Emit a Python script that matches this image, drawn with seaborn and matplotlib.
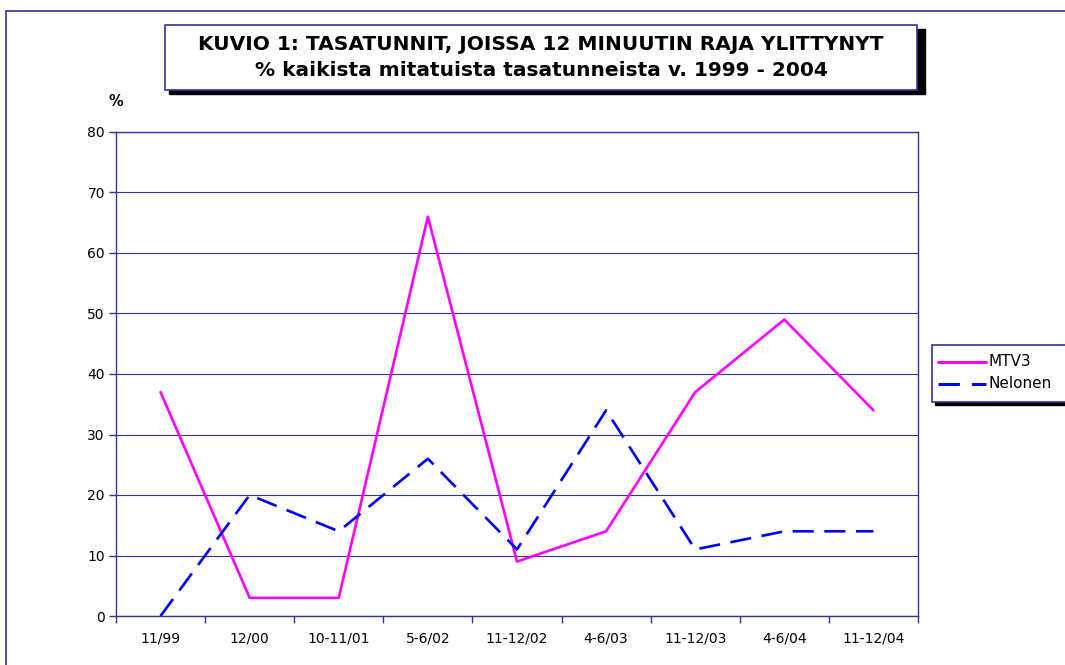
import matplotlib
matplotlib.use("Agg")
import matplotlib.pyplot as plt
from matplotlib.patches import Rectangle
import seaborn as sns
import pandas as pd
import numpy as np

periods = ["11/99", "12/00", "10-11/01", "5-6/02", "11-12/02",
           "4-6/03", "11-12/03", "4-6/04", "11-12/04"]
mtv3 = [37, 3, 3, 66, 9, 14, 37, 49, 34]
nelonen = [0, 20, 14, 26, 11, 34, 11, 14, 14]

navy = "#333399"

df = pd.DataFrame({
    "x": list(range(len(periods))) * 2,
    "value": mtv3 + nelonen,
    "channel": ["MTV3"] * len(periods) + ["Nelonen"] * len(periods),
})

sns.set_style("white")
plt.rcParams["font.family"] = ["DejaVu Sans"]
plt.rcParams["text.color"] = "black"
plt.rcParams["xtick.color"] = "black"
plt.rcParams["ytick.color"] = "black"

fig = plt.figure(figsize=(10.65, 6.65), dpi=100)
ax = fig.add_axes([116 / 1065, 1 - 616 / 665, (918 - 116) / 1065, (616 - 132) / 665])

sns.lineplot(data=df, x="x", y="value", hue="channel", style="channel",
             palette={"MTV3": "#FF00FF", "Nelonen": "#0000FF"},
             dashes={"MTV3": "", "Nelonen": (8, 4)},
             linewidth=1.9, ax=ax, legend=False)

ax.set_xlim(-0.5, len(periods) - 0.5)
ax.set_ylim(0, 80)
ax.set_yticks(np.arange(0, 81, 10))
ax.set_xticks(np.arange(-0.5, len(periods), 1))
ax.set_xticklabels([])
ax.set_xticks(range(len(periods)), minor=True)
ax.set_xticklabels(periods, minor=True)
ax.tick_params(axis="x", which="minor", bottom=False, length=0, pad=11,
               labelsize=10, labelcolor="black")
ax.tick_params(axis="x", which="major", bottom=True, length=5, width=1,
               color=navy, direction="out")
ax.tick_params(axis="y", left=True, length=5, width=1, color=navy, direction="out",
               labelsize=10, labelcolor="black", pad=3)
ax.set_xlabel("")
ax.set_ylabel("")
ax.grid(axis="y", color=navy, linewidth=0.8)
ax.set_axisbelow(True)
for s in ax.spines.values():
    s.set_color(navy)
    s.set_linewidth(1)

# outer chart border
fig.patches.append(Rectangle((6 / 1065, -0.1), 1.2, 1 - 11 / 665 + 0.1,
                             transform=fig.transFigure, fill=False,
                             edgecolor=navy, linewidth=1.2))

# title box with shadow
fig.patches.append(Rectangle((169 / 1065, 1 - 94 / 665), (921 - 165) / 1065, (94 - 29) / 665,
                             transform=fig.transFigure, facecolor="black",
                             edgecolor="black"))
fig.patches.append(Rectangle((165 / 1065, 1 - 90 / 665), (917 - 165) / 1065, (90 - 25) / 665,
                             transform=fig.transFigure, facecolor="white",
                             edgecolor=navy, linewidth=1.2))
fig.text(541 / 1065, 1 - 45 / 665, "KUVIO 1: TASATUNNIT, JOISSA 12 MINUUTIN RAJA YLITTYNYT",
         ha="center", va="center", fontsize=14.5, fontweight="bold", color="black")
fig.text(541 / 1065, 1 - 71 / 665, "% kaikista mitatuista tasatunneista v. 1999 - 2004",
         ha="center", va="center", fontsize=14.5, fontweight="bold", color="black")

fig.text(116 / 1065, 1 - 101 / 665, "%", ha="center", va="center",
         fontsize=10.5, fontweight="bold", color="black")

# legend box with shadow
fig.patches.append(Rectangle((935 / 1065, 1 - 405 / 665), 0.2, (405 - 348) / 665,
                             transform=fig.transFigure, facecolor="black",
                             edgecolor="black"))
fig.patches.append(Rectangle((932 / 1065, 1 - 402 / 665), 0.2, (402 - 345) / 665,
                             transform=fig.transFigure, facecolor="white",
                             edgecolor=navy, linewidth=1.2))
for i, (name, col, ls) in enumerate([("MTV3", "#FF00FF", "-"),
                                     ("Nelonen", "#0000FF", (0, (7, 4)))]):
    yy = 1 - (362 + i * 22) / 665
    fig.add_artist(plt.Line2D([938 / 1065, 986 / 1065], [yy, yy],
                              transform=fig.transFigure, color=col,
                              linewidth=2.2, linestyle=ls))
    fig.text(989 / 1065, yy, name, ha="left", va="center", fontsize=11, color="black")

fig.savefig("out.png", dpi=100)
